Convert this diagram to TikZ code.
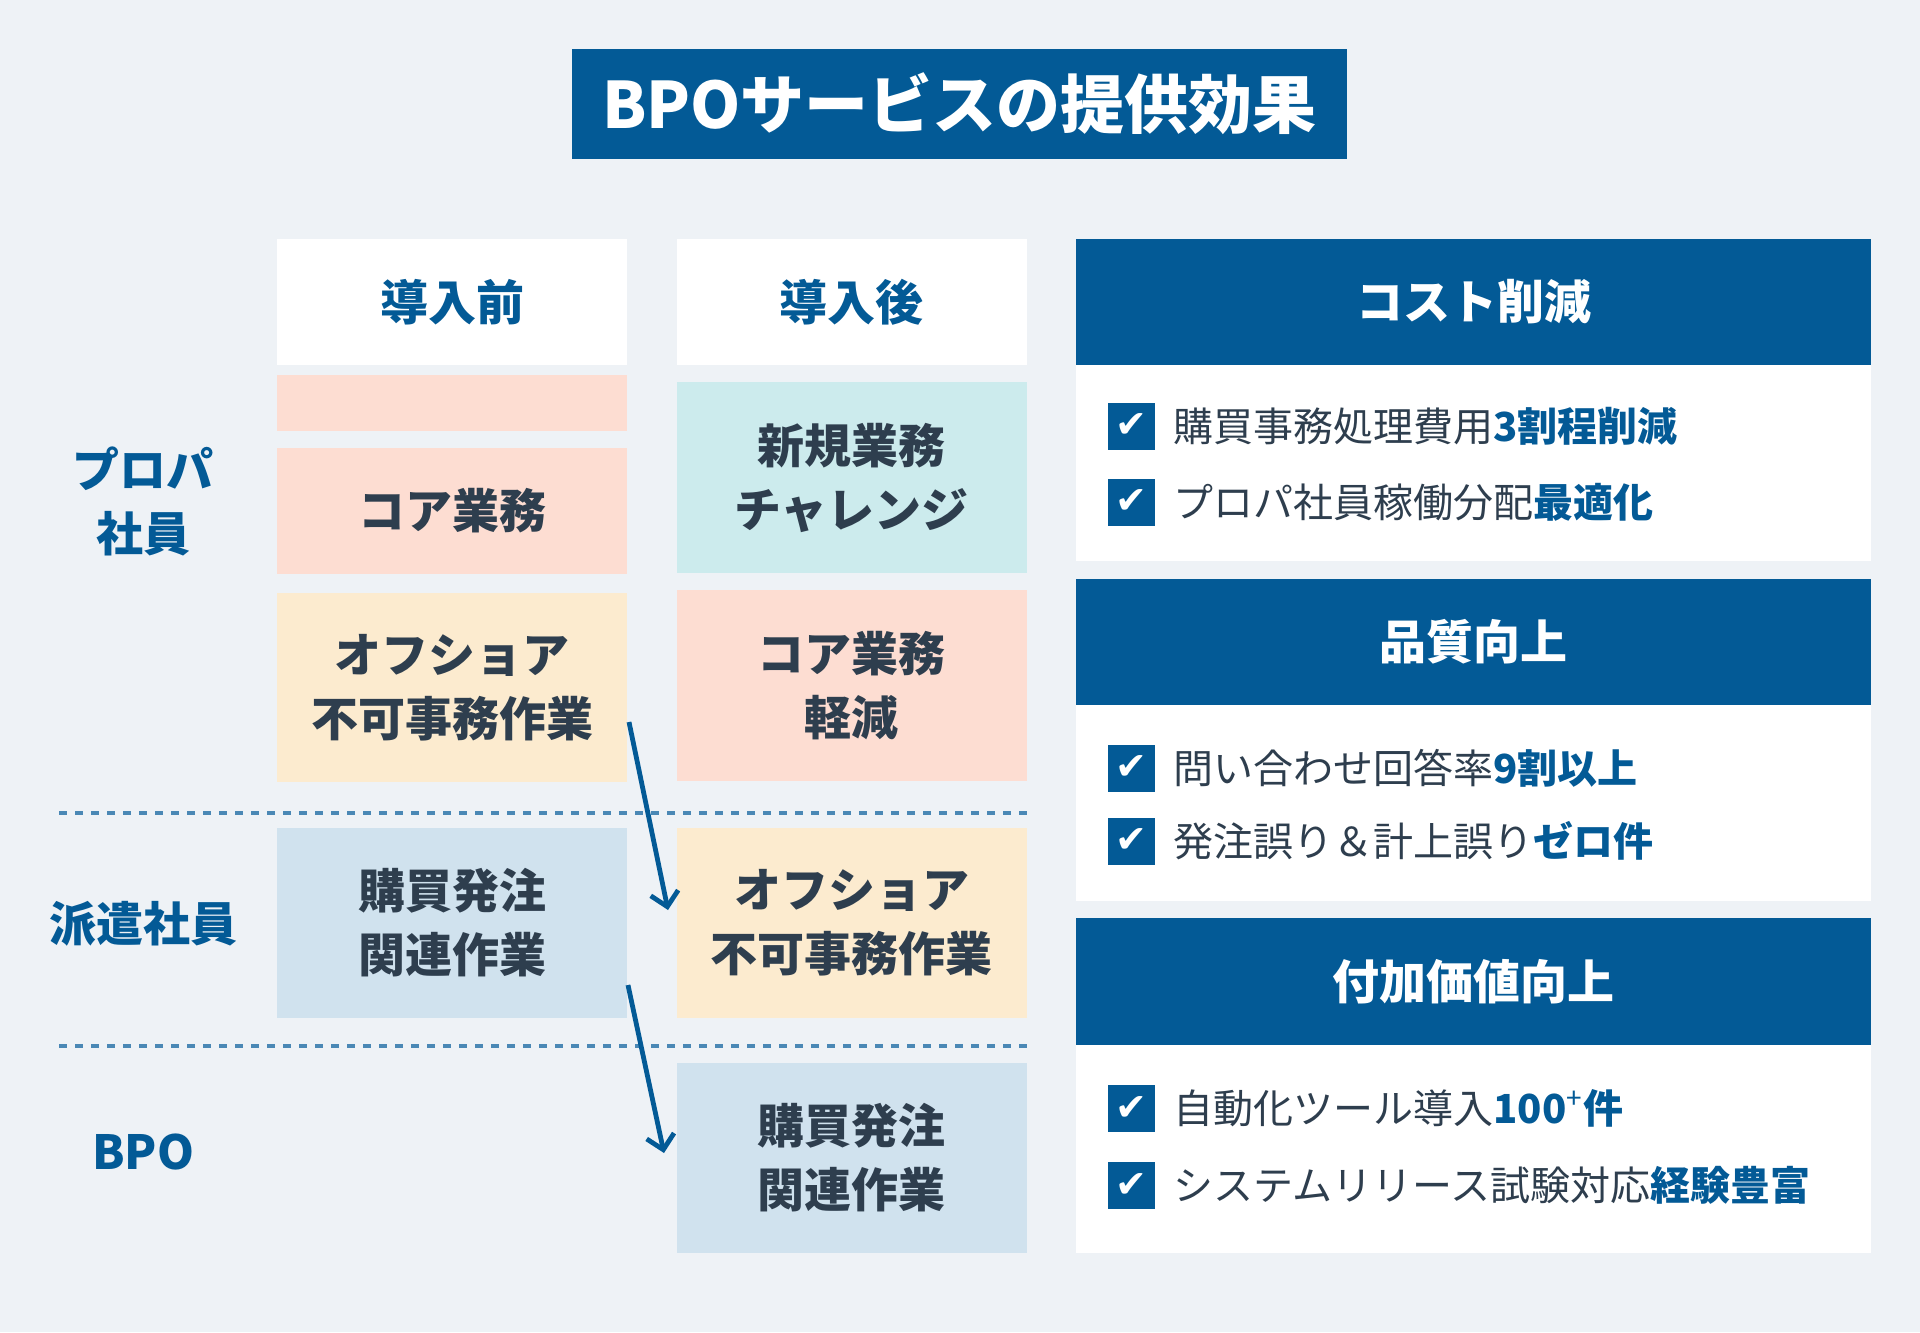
\documentclass[tikz,border=0pt]{standalone}
\usepackage{fontspec}
\setmainfont{Noto Sans CJK JP}
\newfontfamily\dejavu{DejaVu Sans}
\usetikzlibrary{arrows.meta}
\definecolor{bgc}{HTML}{EEF2F6}
\definecolor{navy}{HTML}{035A96}
\definecolor{ink}{HTML}{2E3E4E}
\definecolor{pinkc}{HTML}{FDDDD2}
\definecolor{beigec}{HTML}{FCEBCF}
\definecolor{cyanc}{HTML}{CCEBED}
\definecolor{lbluec}{HTML}{D0E2EE}
\definecolor{dashc}{HTML}{4A88B5}
\newcommand\hlt[1]{\textcolor{navy}{\bfseries #1}}
\begin{document}
\begin{tikzpicture}[x=0.5pt,y=-0.5pt,
  titlebox/.style={fill=navy,text=white,inner sep=0,minimum width=387.5pt,minimum height=55pt,font=\fontsize{32}{38}\selectfont\bfseries},
  hdrbox/.style={fill=white,text=navy,inner sep=0,minimum width=175pt,minimum height=63pt,font=\fontsize{24}{32}\selectfont\bfseries},
  cell/.style={inner sep=0,minimum width=175pt,align=center,text=ink,font=\fontsize{23.5}{32}\selectfont\bfseries},
  lab/.style={inner sep=0,align=center,text=navy,font=\fontsize{23.5}{32}\selectfont\bfseries},
  phdr/.style={fill=navy,text=white,inner sep=0,minimum width=397.5pt,minimum height=63pt,font=\fontsize{23.5}{30}\selectfont\bfseries},
  pbody/.style={fill=white,inner sep=0,minimum width=397.5pt},
  chk/.style={fill=navy,text=white,inner sep=0,minimum size=23.5pt,font=\dejavu\fontsize{19}{19}\selectfont},
  item/.style={anchor=west,inner sep=0,text=ink,font=\fontsize{20}{24}\selectfont},
  dline/.style={dashc,line width=1.75pt,dash pattern=on 4pt off 4pt},
  arr/.style={navy,line width=2.4pt,-{Straight Barb[length=7pt,width=14pt]}}
]
\fill[bgc] (0,0) rectangle (1920,1332);
\useasboundingbox (0,0) rectangle (1920,1332);

% title
\node[titlebox] (title) at (959.5,104) {BPOサービスの提供効果};

% dashed separators
\coordinate (d1a) at (59,813);
\coordinate (d1b) at (1027,813);
\coordinate (d2a) at (59,1046);
\coordinate (d2b) at (1027,1046);
\draw[dline] (d1a) -- (d1b);
\draw[dline] (d2a) -- (d2b);

% column headers
\node[hdrbox] (hb) at (452,302) {導入前};
\node[hdrbox] (ha) at (851.5,302) {導入後};

% left column
\node[cell,fill=pinkc,minimum height=28pt] (thinL) at (452,403) {};
\node[cell,fill=pinkc,minimum height=63pt] (coreL) at (452,511) {コア業務};
\node[cell,fill=beigec,minimum height=94.5pt] (offL) at (452,687.5) {オフショア\\不可事務作業};
\node[cell,fill=lbluec,minimum height=95pt] (buyL) at (452,923) {購買発注\\関連作業};

% right column
\node[cell,fill=cyanc,minimum height=95.5pt] (newR) at (851.5,477.5) {新規業務\\チャレンジ};
\node[cell,fill=pinkc,minimum height=95.5pt] (coreR) at (851.5,685.5) {コア業務\\軽減};
\node[cell,fill=beigec,minimum height=95pt] (offR) at (851.5,923) {オフショア\\不可事務作業};
\node[cell,fill=lbluec,minimum height=95pt] (buyR) at (851.5,1158) {購買発注\\関連作業};

% row labels
\node[lab] (lprop) at (143,501) {プロパ\\社員};
\node[lab] (lhaken) at (143,924) {派遣社員};
\node[lab] (lbpo) at (143,1152) {BPO};

% arrows
\coordinate (a1s) at (629,722);
\coordinate (a1e) at (668,910);
\coordinate (a2s) at (628,985);
\coordinate (a2e) at (664,1153);
\draw[arr] (a1s) -- (a1e);
\draw[arr] (a2s) -- (a2e);

% right panels
\node[phdr] (p1h) at (1473.5,302) {コスト削減};
\node[pbody,minimum height=98pt] (p1b) at (1473.5,463) {};
\node[phdr] (p2h) at (1473.5,642) {品質向上};
\node[pbody,minimum height=98pt] (p2b) at (1473.5,803) {};
\node[phdr,minimum height=63.5pt] (p3h) at (1473.5,981.5) {付加価値向上};
\node[pbody,minimum height=104pt] (p3b) at (1473.5,1149) {};

% check items
\node[chk] (c11) at (1131.5,426) {✔};
\node[item] (t11) at (1173,426) {購買事務処理費用\hlt{3割程削減}};
\node[chk] (c12) at (1131.5,502) {✔};
\node[item] (t12) at (1173,502) {プロパ社員稼働分配\hlt{最適化}};

\node[chk] (c21) at (1131.5,768) {✔};
\node[item] (t21) at (1173,768) {問い合わせ回答率\hlt{9割以上}};
\node[chk] (c22) at (1131.5,841) {✔};
\node[item] (t22) at (1173,841) {発注誤り＆計上誤り\hlt{ゼロ件}};

\node[chk] (c31) at (1131.5,1108) {✔};
\node[item] (t31) at (1173,1108) {自動化ツール導入\hlt{100\textsuperscript{\mdseries+}件}};
\node[chk] (c32) at (1131.5,1185) {✔};
\node[item] (t32) at (1173,1185) {システムリリース試験対応\hlt{経験豊富}};
\end{tikzpicture}
\end{document}
